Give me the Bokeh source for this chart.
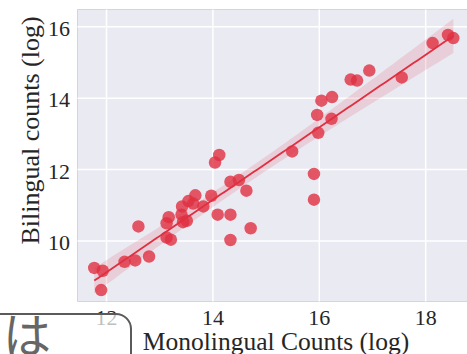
import numpy as np
from bokeh.plotting import figure
from bokeh.models import Range1d, Div
from bokeh.layouts import column
from bokeh.core.properties import value
from bokeh.embed import file_html
from bokeh.resources import INLINE

# ---- data ----
mono = [11.77, 11.93, 11.90, 12.34, 12.54, 12.80, 12.60, 13.13, 13.17, 13.13,
        13.21, 13.41, 13.44, 13.51, 13.42, 13.54, 13.63, 13.67, 13.82, 13.97,
        14.09, 14.33, 14.33, 14.71, 14.33, 14.49, 14.63, 14.04, 14.12, 15.49,
        15.90, 15.90, 15.98, 15.96, 16.23, 16.04, 16.24, 16.59, 16.71, 16.94,
        17.55, 18.13, 18.42, 18.52]
bi = [9.25, 9.17, 8.63, 9.42, 9.46, 9.57, 10.41, 10.50, 10.67, 10.10,
      10.04, 10.74, 10.53, 10.57, 10.97, 11.12, 11.05, 11.28, 10.97, 11.27,
      10.74, 10.74, 10.03, 10.36, 11.66, 11.71, 11.41, 12.20, 12.41, 12.51,
      11.88, 11.16, 13.03, 13.53, 13.42, 13.93, 14.03, 14.52, 14.49, 14.77,
      14.58, 15.54, 15.77, 15.68]
x_ticks = [12, 14, 16, 18]
y_ticks = [10, 12, 14, 16]
x_tick_labels = ["12", "14", "16", "18"]
y_tick_labels = ["10", "12", "14", "16"]
x_label = "Monolingual Counts (log)"
y_label = "Bilingual counts (log)"
overlay_text = "は"

# axis limits of the plotting area
X0, X1 = 11.455, 18.786
Y0, Y1 = 8.31, 16.48

BASE = "#E02F41"
BG = "#EAEAF2"
SERIF = "Liberation Serif"
TXT = "#262626"

# canvas size and margins (px) around the plotting area
W, H = 467, 354
ML, MR, MT, MB = 77, 0, 9, 53
ppx = (W - ML - MR) / (X1 - X0)
ppy = (H - MT - MB) / (Y1 - Y0)

# ---- regression with 95% CI ----
xa = np.array(mono)
ya = np.array(bi)
slope, intercept = np.polyfit(xa, ya, 1)
xs = np.linspace(xa.min(), xa.max(), 100)
yhat = intercept + slope * xs
n = len(xa)
resid = ya - (intercept + slope * xa)
s = np.sqrt(np.sum(resid ** 2) / (n - 2))
sxx = np.sum((xa - xa.mean()) ** 2)
se = s * np.sqrt(1.0 / n + (xs - xa.mean()) ** 2 / sxx)
tval = 2.018
lower = yhat - tval * se
upper = yhat + tval * se

p = figure(width=W, height=H, output_backend="svg", toolbar_location=None,
           x_axis_type=None, y_axis_type=None,
           x_range=Range1d(X0 - ML / ppx, X1 + MR / ppx),
           y_range=Range1d(Y0 - MB / ppy, Y1 + MT / ppy),
           min_border=0)
p.background_fill_color = "white"
p.border_fill_color = "white"
p.outline_line_color = None

# plotting area with light outline
p.quad(left=[X0], right=[X1], bottom=[Y0], top=[Y1], fill_color=BG,
       line_color="#d4d4da", line_width=1)
# white grid
p.segment(x0=x_ticks, y0=[Y0] * len(x_ticks), x1=x_ticks, y1=[Y1] * len(x_ticks),
          line_color="white", line_width=1.5)
p.segment(x0=[X0] * len(y_ticks), y0=y_ticks, x1=[X1] * len(y_ticks), y1=y_ticks,
          line_color="white", line_width=1.5)

# regression band, line and points
p.varea(x=xs, y1=lower, y2=upper, fill_color=BASE, fill_alpha=0.15)
p.line(xs, yhat, line_color=BASE, line_width=1.8)
p.scatter(mono, bi, size=12.5, fill_color=BASE, fill_alpha=0.8, line_color=None)

# tick labels
p.text(x=x_ticks, y=[Y0] * len(x_ticks), text=x_tick_labels,
       text_align="center", text_baseline="alphabetic", y_offset=16.5,
       text_font=value(SERIF), text_font_size="22px", text_color=TXT)
p.text(x=[X0] * len(y_ticks), y=y_ticks, text=y_tick_labels,
       text_align="right", text_baseline="alphabetic", x_offset=-7.5, y_offset=2,
       text_font=value(SERIF), text_font_size="22px", text_color=TXT)

# axis labels
p.text(x=[(X0 + X1) / 2], y=[Y0], text=[x_label],
       text_align="center", text_baseline="alphabetic", x_offset=3.5, y_offset=40,
       text_font=value(SERIF), text_font_size="25.5px", text_color=TXT)
p.text(x=[X0], y=[Y1], text=[y_label], angle=np.pi / 2,
       text_align="center", text_baseline="alphabetic", x_offset=-47, y_offset=121,
       text_font=value(SERIF), text_font_size="26px", text_color=TXT)

# overlay badge seen at the bottom-left of the reference
badge = Div(text=overlay_text, width=147, height=80,
            styles={"position": "absolute", "left": "-20px", "top": "308px",
                    "box-sizing": "border-box",
                    "border": "2px solid #5a5a5a", "border-radius": "16px",
                    "background": "rgba(255,255,255,0.7)",
                    "font-family": "'Noto Sans CJK JP'", "font-size": "48px",
                    "line-height": "34px", "color": "#666666",
                    "padding-left": "16px", "padding-top": "0px",
                    "z-index": "10"})

layout = column(p, badge)
open("out.html", "w").write(file_html(layout, INLINE))
